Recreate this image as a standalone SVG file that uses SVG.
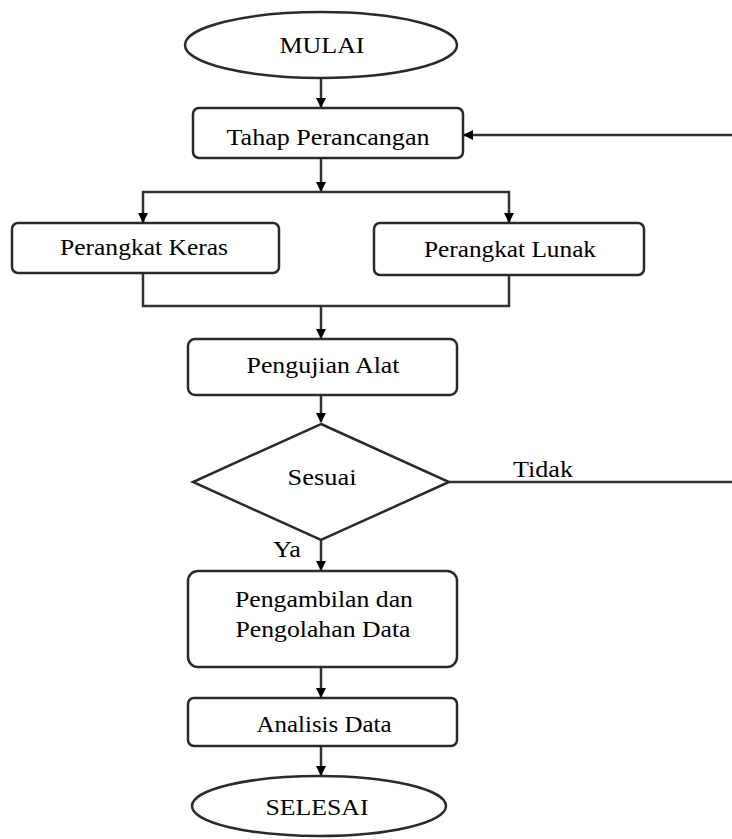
<svg xmlns="http://www.w3.org/2000/svg" width="732" height="839" viewBox="0 0 732 839">
<style>
.n{fill:#fff;stroke:#2a2a2a;stroke-width:2.5}
.c{fill:none;stroke:#333;stroke-width:2.5}
.t{font-family:"Liberation Serif","Times New Roman",serif;font-size:24px;fill:#000;text-anchor:middle}
</style>
<defs>
<marker id="ah" viewBox="0 0 10 10" refX="9" refY="5" markerWidth="4" markerHeight="4" orient="auto" markerUnits="strokeWidth">
<path d="M0,0 L10,5 L0,10 z" fill="#000"/>
</marker>
</defs>
<g id="connectors">
<path class="c" d="M321,78 V107" marker-end="url(#ah)"/>
<path class="c" d="M321,158 V191" marker-end="url(#ah)"/>
<path class="c" d="M143,222 V192 H509 V222"/>
<path class="c" d="M143,212 V222" marker-end="url(#ah)"/>
<path class="c" d="M509,212 V222" marker-end="url(#ah)"/>
<path class="c" d="M143,273 V306 H509 V275"/>
<path class="c" d="M321,306 V338" marker-end="url(#ah)"/>
<path class="c" d="M321,395 V422" marker-end="url(#ah)"/>
<path class="c" d="M321,540 V570" marker-end="url(#ah)"/>
<path class="c" d="M321,667 V697" marker-end="url(#ah)"/>
<path class="c" d="M321,746 V775" marker-end="url(#ah)"/>
<path class="c" d="M449,482 H732"/>
<path class="c" d="M732,135 H464" marker-end="url(#ah)"/>
<text class="t" x="543" y="477" textLength="60" lengthAdjust="spacingAndGlyphs">Tidak</text>
<text class="t" x="287" y="557" textLength="28" lengthAdjust="spacingAndGlyphs">Ya</text>
</g>
<g id="mulai">
<ellipse class="n" cx="321" cy="45" rx="136" ry="33"/>
<text class="t" x="322" y="53" textLength="85" lengthAdjust="spacingAndGlyphs">MULAI</text>
</g>
<g id="tahap">
<rect class="n" x="193" y="108" width="270" height="50" rx="6"/>
<text class="t" x="328" y="145" textLength="203" lengthAdjust="spacingAndGlyphs">Tahap Perancangan</text>
</g>
<g id="keras">
<rect class="n" x="12" y="223" width="267" height="50" rx="6"/>
<text class="t" x="144" y="255" textLength="168" lengthAdjust="spacingAndGlyphs">Perangkat Keras</text>
</g>
<g id="lunak">
<rect class="n" x="374" y="223" width="270" height="52" rx="6"/>
<text class="t" x="510" y="257" textLength="172" lengthAdjust="spacingAndGlyphs">Perangkat Lunak</text>
</g>
<g id="pengujian">
<rect class="n" x="188" y="339" width="269" height="56" rx="7"/>
<text class="t" x="323" y="373" textLength="153" lengthAdjust="spacingAndGlyphs">Pengujian Alat</text>
</g>
<g id="sesuai">
<polygon class="n" points="321,424 449,482 321,540 193,482"/>
<text class="t" x="322" y="485" textLength="69" lengthAdjust="spacingAndGlyphs">Sesuai</text>
</g>
<g id="pengambilan">
<rect class="n" x="188" y="571" width="269" height="96" rx="10"/>
<text class="t" x="324" y="607" textLength="178" lengthAdjust="spacingAndGlyphs">Pengambilan dan</text>
<text class="t" x="323" y="637" textLength="175" lengthAdjust="spacingAndGlyphs">Pengolahan Data</text>
</g>
<g id="analisis">
<rect class="n" x="188" y="698" width="269" height="48" rx="6"/>
<text class="t" x="324" y="732" textLength="135" lengthAdjust="spacingAndGlyphs">Analisis Data</text>
</g>
<g id="selesai">
<ellipse class="n" cx="319" cy="806" rx="127" ry="30"/>
<text class="t" x="317" y="815" textLength="103" lengthAdjust="spacingAndGlyphs">SELESAI</text>
</g>
</svg>
